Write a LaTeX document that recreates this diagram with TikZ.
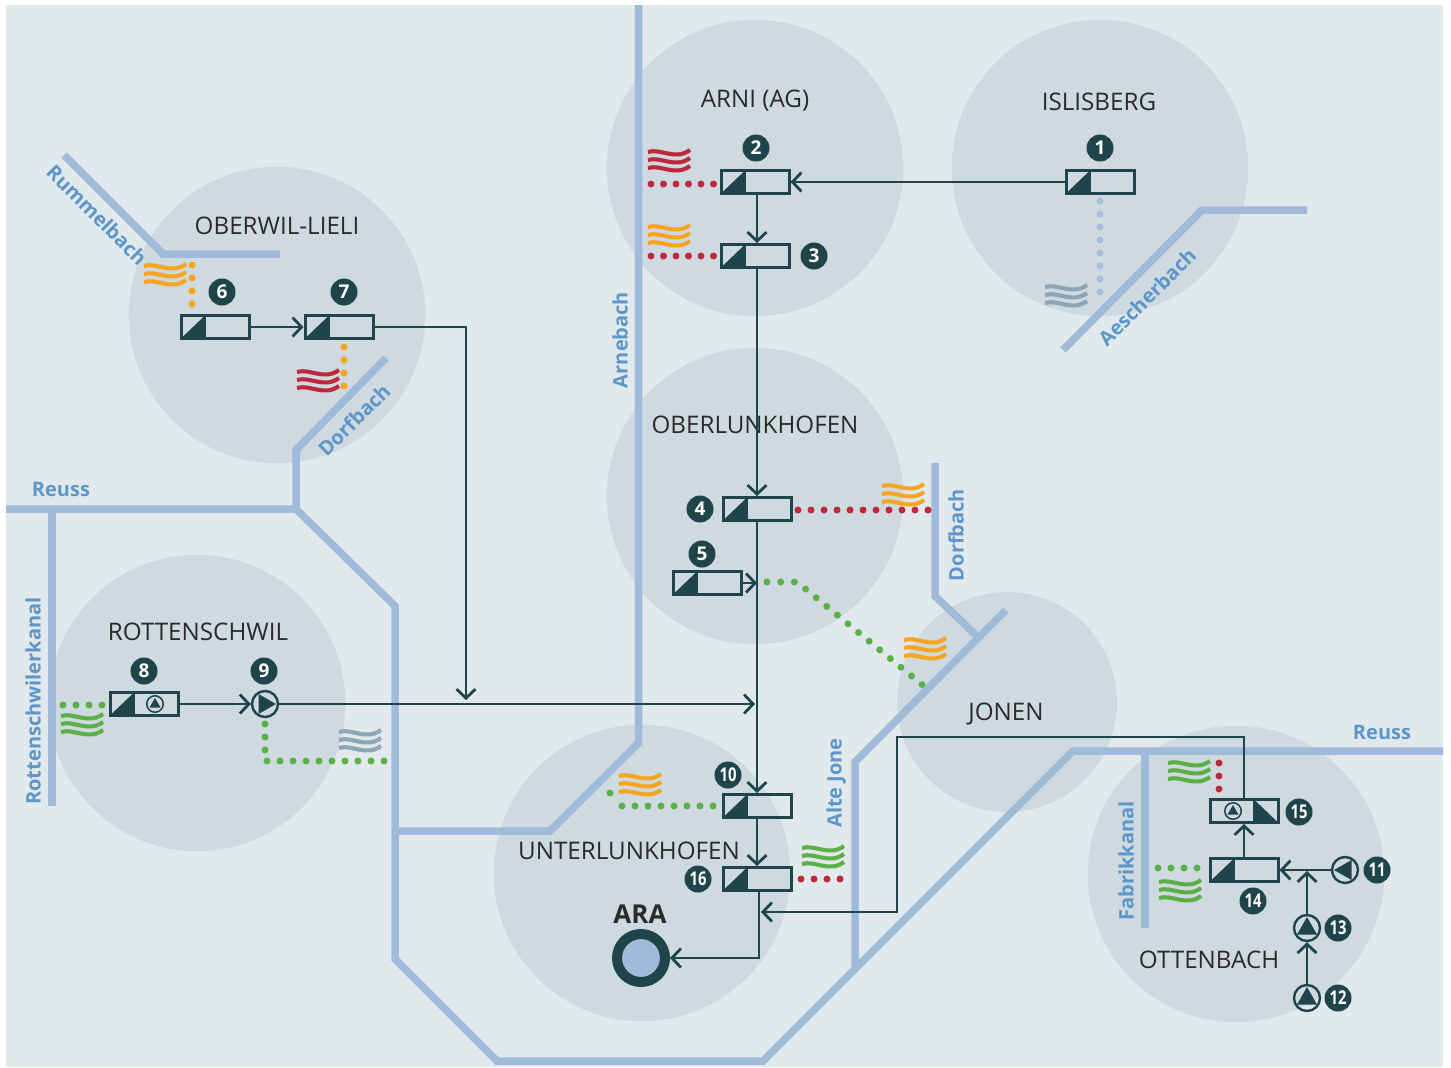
\documentclass[tikz,border=0pt]{standalone}
\usepackage{fontspec}
\setmainfont{Open Sans}
\usetikzlibrary{arrows.meta}
\definecolor{panelcol}{HTML}{E1E9ED}
\definecolor{zonecol}{HTML}{CED9E0}
\definecolor{rivercol}{HTML}{9FBBD9}
\definecolor{rivertext}{HTML}{5D96C9}
\definecolor{darkcol}{HTML}{1F4449}
\definecolor{namecol}{HTML}{2B2A29}
\definecolor{redcol}{HTML}{BE2A3C}
\definecolor{orangecol}{HTML}{F6A61E}
\definecolor{greencol}{HTML}{5BB147}
\definecolor{graycol}{HTML}{8CA6B8}
\definecolor{paledot}{HTML}{A6C0DC}
\tikzset{
      zone/.style={circle, fill=zonecol, minimum size=296.5pt, inner sep=0pt},
      river/.style={draw=rivercol, line width=7.5pt, line join=miter},
      rivername/.style={text=rivertext, font=\fontsize{20}{20}\selectfont\bfseries, inner sep=0pt},
      townname/.style={text=namecol, font=\fontsize{24.2}{25}\selectfont, inner sep=0pt},
      flow/.style={draw=darkcol, line width=2.8pt, -{Straight Barb[length=9pt,width=19pt]}},
      tankbox/.style={
        draw=darkcol,
        line width=3pt,
        minimum width=68pt,
        minimum height=23pt,
        inner sep=0pt,
        path picture={
          \fill[darkcol] ([xshift=24pt]path picture bounding box.north west) -- ([xshift=24pt]path picture bounding box.south west) -- (path picture bounding box.south west) -- cycle;
          \draw[darkcol, line width=2pt] ([xshift=24pt]path picture bounding box.north west) -- ([xshift=24pt]path picture bounding box.south west);
        }
      },
      tankflip/.style={
        draw=darkcol,
        line width=3pt,
        minimum width=68pt,
        minimum height=23pt,
        inner sep=0pt,
        path picture={
          \fill[darkcol] ([xshift=-24pt]path picture bounding box.north east) -- ([xshift=-24pt]path picture bounding box.south east) -- (path picture bounding box.south east) -- cycle;
          \draw[darkcol, line width=2pt] ([xshift=-24pt]path picture bounding box.north east) -- ([xshift=-24pt]path picture bounding box.south east);
        }
      },
      pumpring/.style={circle, draw=darkcol, line width=2.4pt, minimum size=26pt, inner sep=0pt},
      pumpup/.style={pumpring,
        path picture={
          \fill[darkcol, shift={(path picture bounding box.center)}] (0pt,11pt) -- (-10pt,-6.5pt) -- (10pt,-6.5pt) -- cycle;
        }
      },
      pumpright/.style={pumpring,
        path picture={
          \fill[darkcol, shift={(path picture bounding box.center)}] (11pt,0pt) -- (-6.5pt,10pt) -- (-6.5pt,-10pt) -- cycle;
        }
      },
      pumpleft/.style={pumpring,
        path picture={
          \fill[darkcol, shift={(path picture bounding box.center)}] (-11pt,0pt) -- (6.5pt,10pt) -- (6.5pt,-10pt) -- cycle;
        }
      },
      minipump/.style={
        circle, draw=darkcol, line width=1.5pt, minimum size=16.5pt, inner sep=0pt,
        path picture={
          \fill[darkcol, shift={(path picture bounding box.center)}] (0pt,6pt) -- (-5.5pt,-3.5pt) -- (5.5pt,-3.5pt) -- cycle;
        }
      },
      badge/.style={circle, fill=darkcol, text=white, minimum size=27pt, inner sep=0pt, font=\fontsize{19}{19}\selectfont\bfseries},
      dots/.style={draw=#1, line width=7pt, line cap=round, dash pattern=on 0pt off 13pt},
      wavesign/.pic={
        \foreach \yw in {-8,0,8}
          \draw[pic actions, line width=4.1pt] (-21,\yw-1) .. controls (-8,\yw-5) and (6,\yw+8) .. (21,\yw-3);
      }
    }
\newcommand{\narrow}[1]{\scalebox{0.78}[1]{#1}}

\begin{document}
\begin{tikzpicture}[x=1pt,y=-1pt]
    \useasboundingbox (0,0) rectangle (1451,1068);
    \fill[panelcol] (6,5) rectangle (1443,1067);

    % zones
    \node[zone] (zarni) at (755,168) {};
    \node[zone] (zisli) at (1100,168) {};
    \node[zone] (zober) at (277,315) {};
    \node[zone] (zlunk) at (755,496) {};
    \node[zone] (zrott) at (197,703) {};
    \node[zone, minimum size=220pt] (zjon) at (1007,702) {};
    \node[zone] (zunte) at (642,873) {};
    \node[zone] (zott) at (1236,874) {};

    % rivers
    \draw[river] (638.5,5) -- (638.5,743) -- (550,831) -- (395,831);
    \draw[river] (6,509) -- (296,509) -- (395,606) -- (395,959) -- (497,1061) -- (763,1061) -- (1073,751) -- (1443,751);
    \draw[river] (296,509) -- (296,450) -- (386,358);
    \draw[river] (52,509) -- (52,806);
    \draw[river] (64,155) -- (163,254) -- (280,254);
    \draw[river] (1063,350) -- (1202,210) -- (1307,210);
    \draw[river] (935,463) -- (935,596) -- (978,637);
    \draw[river] (1006,610) -- (855,762) -- (855,968);
    \draw[river] (1145,751) -- (1145,928);

    \node[rivername, rotate=-45] (nrumm) at (97,215) {Rummelbach};
    \node[rivername, rotate=90] (narne) at (620,340) {Arnebach};
    \node[rivername, rotate=45] (naesc) at (1147,297) {Aescherbach};
    \node[rivername, rotate=45] (ndorfa) at (354,420) {Dorfbach};
    \node[rivername] (nreussa) at (61,489) {Reuss};
    \node[rivername, rotate=90] (nrott) at (33,701) {Rottenschwilerkanal};
    \node[rivername, rotate=90] (ndorfb) at (956,535) {Dorfbach};
    \node[rivername, rotate=90] (njone) at (836,783) {Alte Jone};
    \node[rivername, rotate=90] (nfabr) at (1126,861) {Fabrikkanal};
    \node[rivername] (nreussb) at (1382,732) {Reuss};

    \node[townname] (tarni) at (755,101) {ARNI (AG)};
    \node[townname] (tisli) at (1099,102) {ISLISBERG};
    \node[townname] (tober) at (277,226) {OBERWIL-LIELI};
    \node[townname] (tlunk) at (755,425) {OBERLUNKHOFEN};
    \node[townname] (trott) at (198,632) {ROTTENSCHWIL};
    \node[townname] (tjon) at (1006,714) {JONEN};
    \node[townname] (tunte) at (629,851) {UNTERLUNKHOFEN};
    \node[townname] (tott) at (1209,960) {OTTENBACH};

    % stations
    \node[tankbox] (tank1) at (1100,182) {};
    \node[tankbox] (tank2) at (755,182) {};
    \node[tankbox] (tank3) at (755,256) {};
    \node[tankbox] (tank4) at (757,509) {};
    \node[tankbox] (tank5) at (707,583) {};
    \node[tankbox] (tank6) at (215,327) {};
    \node[tankbox] (tank7) at (339,327) {};
    \node[tankbox] (tank8) at (144,704) {};
    \node[tankbox] (tank10) at (757,806) {};
    \node[tankbox] (tank14) at (1244,870) {};
    \node[tankflip] (tank15) at (1244,811) {};
    \node[tankbox] (tank16) at (757,879) {};
    \node[minipump] (mini8) at (155,704) {};
    \node[minipump] (mini15) at (1233,811) {};
    \node[pumpright] (pump9) at (265,704) {};
    \node[pumpleft] (pump11) at (1345,870) {};
    \node[pumpup] (pump12) at (1307,998) {};
    \node[pumpup] (pump13) at (1307,928) {};
    \node[circle, draw=darkcol, line width=10pt, fill=rivercol, minimum size=48pt, inner sep=0pt] (ara) at (641,958) {};
    \node[text=namecol, inner sep=0pt, font=\fontsize{26}{26}\selectfont\bfseries] (aratext) at (640,914) {ARA};

    \node[badge] (b1) at (1100,148) {1};
    \node[badge] (b2) at (756,148) {2};
    \node[badge] (b3) at (814,256) {3};
    \node[badge] (b4) at (700,509) {4};
    \node[badge] (b5) at (702,554) {5};
    \node[badge] (b6) at (222,292) {6};
    \node[badge] (b7) at (344,292) {7};
    \node[badge] (b8) at (144,671) {8};
    \node[badge] (b9) at (264,671) {9};
    \node[badge] (b10) at (728,775) {\narrow{10}};
    \node[badge] (b11) at (1377,870) {\narrow{11}};
    \node[badge] (b12) at (1338,998) {\narrow{12}};
    \node[badge] (b13) at (1338,928) {\narrow{13}};
    \node[badge] (b14) at (1253,901) {\narrow{14}};
    \node[badge] (b15) at (1299,812) {\narrow{15}};
    \node[badge] (b16) at (698,879) {\narrow{16}};

    % flows
    \coordinate (j5) at (757,583);
    \coordinate (j9) at (755,704);
    \coordinate (j7) at (466,700);
    \coordinate (j14) at (1307,871);
    \coordinate (j16) at (761,912);
    \draw[flow] (tank1.west) -- (tank2.east);
    \draw[flow] ([xshift=2pt]tank2.south) -- ([xshift=2pt]tank3.north);
    \draw[flow] ([xshift=2pt]tank3.south) -- (tank4.north);
    \draw[flow] (tank4.south) -- (tank10.north);
    \draw[flow] (tank5.east) -- (j5);
    \draw[flow] (tank6.east) -- (tank7.west);
    \draw[flow] (tank7.east) -| (j7);
    \draw[flow] (tank8.east) -- (pump9.west);
    \draw[flow] (pump9.east) -- (j9);
    \draw[flow] (tank10.south) -- (tank16.north);
    \draw[flow] ([xshift=2pt]tank16.south) |- (ara.east);
    \draw[flow] (tank14.north) -- (tank15.south);
    \draw[flow] (pump11.west) -- (tank14.east);
    \draw[flow] (pump12.north) -- (pump13.south);
    \draw[flow] (pump13.north) -- (j14);
    \draw[flow] (tank15.north) |- (897,737) |- (j16);

    % discharge lines
    \draw[dots=redcol, dash pattern=on 0pt off 12.5pt] (651,184) -- (716,184);
    \draw[dots=redcol, dash pattern=on 0pt off 12.5pt] (651,256) -- (716,256);
    \draw[dots=paledot] (1100,201) -- (1100,300);
    \draw[dots=redcol] (798,510) -- (929,510);
    \draw[dots=greencol, dash pattern=on 0pt off 13.7pt] (767,582) -- (797,582) -- (925,687);
    \draw[dots=orangecol] (192,265) -- (192,308);
    \draw[dots=orangecol] (344,347) -- (344,390);
    \draw[dots=greencol] (63,705) -- (106,705);
    \draw[dots=greencol] (265,724) -- (265,761) -- (390,761);
    \draw[dots=greencol] (622,806) -- (718,806);
    \draw[dots=greencol] (610,793) -- (611,793);
    \draw[dots=redcol] (801,879) -- (848,879);
    \draw[dots=redcol] (1219,763) -- (1219,793);
    \draw[dots=greencol] (1158,868) -- (1202,868);

    % warm and cold water signs
    \pic[draw=redcol] at (669,161) {wavesign};
    \pic[draw=orangecol] at (669,236) {wavesign};
    \pic[draw=graycol] at (1066,296) {wavesign};
    \pic[draw=orangecol] at (903,495) {wavesign};
    \pic[draw=orangecol] at (925,649) {wavesign};
    \pic[draw=orangecol] at (165,275) {wavesign};
    \pic[draw=redcol] at (318,381) {wavesign};
    \pic[draw=greencol] at (82,725) {wavesign};
    \pic[draw=graycol] at (360,741) {wavesign};
    \pic[draw=orangecol] at (640,785) {wavesign};
    \pic[draw=greencol] at (823,857) {wavesign};
    \pic[draw=greencol] at (1189,772) {wavesign};
    \pic[draw=greencol] at (1180,891) {wavesign};
    \end{tikzpicture}
\end{document}
